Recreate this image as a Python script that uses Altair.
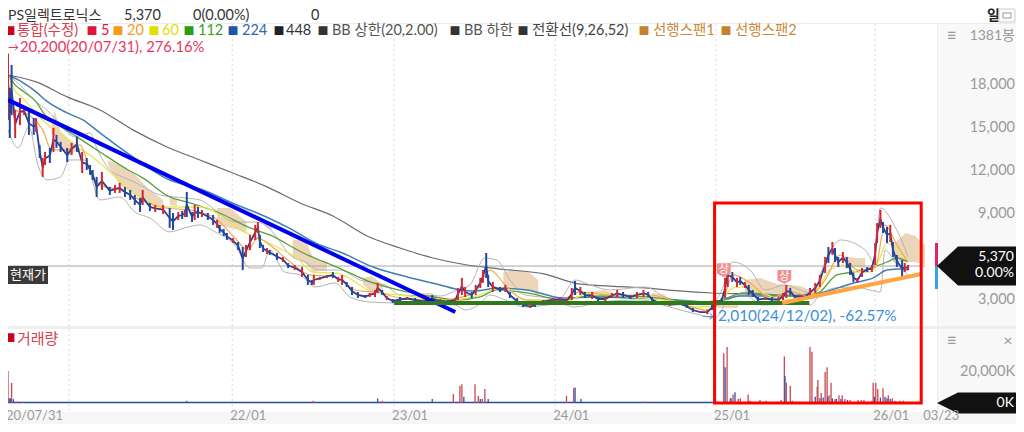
import altair as alt
import pandas as pd

FONT = "Lato, 'Noto Sans CJK KR', sans-serif"

# ---- session-indexed x ticks
grid_idx = [102, 350, 596, 841, 1085, 1327]
xlabel_idx = [0, 350, 596, 841, 1085, 1327, 1403]
xlabel_txt = ["20/07/31", "22/01", "23/01", "24/01", "25/01", "26/01", "03/23"]
price_ticks = [18000, 15000, 12000, 9000, 3000]
price_tick_txt = ["18,000", "15,000", "12,000", "9,000", "3,000"]
last_price = 5370

# ---- candles
bar_idx = [0,3,6,12,20,27,35,43,47,53,58,62,70,76,81,88,99,106,114,122,129,134,138,144,152,164,172,179,187,195,202,210,214,225,233,245,255,260,268,274,278,281,289,293,298,304,313,321,327,331,337,342,351,359,366,371,377,385,389,392,397,403,407,418,427,435,445,456,465,471,474,483,494,503,511,517,524,532,541,552,559,567,571,578,585,594,605,616,628,640,654,666,678,689,693,699,704,714,720,727,731,736,739,746,757,765,772,783,792,803,810,822,837,848,859,866,871,879,886,897,906,917,927,935,944,955,965,975,982,988,1000,1015,1031,1041,1050,1061,1072,1079,1087,1094,1099,1103,1110,1117,1122,1129,1135,1141,1149,1160,1170,1180,1187,1192,1198,1205,1213,1221,1228,1236,1243,1251,1256,1262,1266,1271,1278,1284,1289,1294,1300,1307,1315,1322,1327,1330,1335,1339,1345,1350,1354,1360,1368,1372,1377]
bar_high = [20200,17800,19400,16260,17100,16470,16120,15700,15700,13800,12910,13330,13610,15010,14520,14030,13610,13960,14380,13330,12910,12420,12070,11590,11930,10890,11030,11170,10890,10680,10330,10120,10680,9770,9630,9630,9420,9070,9140,9210,9280,10540,9140,9630,9490,9280,9070,8930,8580,8240,7960,7680,7330,7050,6700,6840,7540,8240,8440,7540,6840,6630,6490,6280,6000,5580,5440,5300,4750,4400,4750,4610,4750,4950,4610,4750,4260,3910,3560,3350,3490,3700,4190,3700,3280,3070,3210,3210,3140,3000,3350,3070,3000,3140,3840,4540,3910,3560,4050,4540,5090,6280,4750,4260,3910,4050,3560,3140,2790,2650,2790,3000,3140,3210,3140,3840,4330,3910,3560,3560,3210,3210,3490,3700,3560,3350,3560,3700,3560,3210,2860,2790,2790,2650,2440,2230,2300,2650,3000,3140,4540,5580,4950,4540,4610,4260,4050,3700,3210,3210,3210,3210,3490,4050,3840,3350,3350,3280,3840,4190,4750,6000,6700,7050,6630,6000,6350,6000,5580,4880,4540,5230,5300,5440,6980,8370,9280,8440,8100,8240,7050,6140,5790,5580,5440]
bar_low = [15560,14300,15900,14300,15200,15900,14520,14520,14730,12910,11590,12420,12560,13330,13610,13330,12630,13120,13330,11860,12070,11730,11380,10190,10680,10330,10470,10470,10190,9980,9630,9140,9630,9210,9140,9000,8030,7890,8580,8650,8790,8790,8440,8580,8720,8790,8580,8240,8030,7680,7470,7190,6980,6490,5090,6000,6490,7190,7680,6630,6350,6210,6140,5790,5650,5230,5090,4610,4050,4050,4050,4400,4540,4540,4260,4050,3910,3350,3140,3140,3210,3210,3490,3350,3000,2790,2860,3000,2860,2790,2860,2790,2790,2860,3000,3350,3210,3140,3350,3840,4190,4540,3910,3560,3560,3560,3140,2650,2510,2440,2510,2790,2860,2860,2860,3000,3350,3350,3140,3070,2930,2930,3140,3210,3140,3070,3140,3210,3210,2860,2650,2580,2650,2440,2160,2090,2010,2300,2790,2860,3140,3910,4260,3910,4050,3840,3350,3210,2860,3000,2860,2860,3000,3140,3350,3140,3140,3140,3210,3490,3910,4880,5580,6140,5650,5300,5580,5230,4750,4260,4190,4610,4950,4950,5440,6980,8030,7680,6980,7050,6000,5300,4610,4950,5090]
bar_up = "rbbrrrbbrbrrbrbbbrbrbbbbrbrrbbbbrbrrbbrbrbbrbrbbrbbbrbbrrrrbbrbbrbrrbbrrrbrrbbbbrrrbrbbrbrbrbrrrrbrrrbbrbrbbbrbrrrrrbrbrbrrrbbrrbbrrbbbrrbrbrrbrbrbbbrbrrrbbrbrrrrbrbbrbbbrrbrrrrbbrbbbrr"[:len(bar_idx)].ljust(len(bar_idx), "r")

# ---- moving averages (session, price)
ma448_idx = [0,47,99,149,199,251,301,351,403,453,503,555,605,655,707,757,825,877,977,1029,1079,1137,1213,1289,1365]
ma448_val = [18700,18220,17170,16260,14870,13680,12770,11860,10890,9770,8860,7470,6630,5930,5440,5160,4810,4120,3840,3630,3490,3420,3280,3840,4540]
ma224_idx = [0,23,47,62,99,123,149,199,251,306,357,388,433,483,514,564,616,666,696,716,757,798,853,904,955,1005,1081,1122,1181,1231,1243,1294,1324,1345,1365,1377]
ma224_val = [18700,18220,17520,16960,16050,15560,14660,12980,11450,10680,9630,9070,8100,6840,6350,5300,4610,4050,3700,3630,3840,3700,3140,3210,3140,3070,2860,3280,3280,3420,3490,4190,4540,5090,5160,5090]
ma112_idx = [0,12,27,47,62,84,114,149,192,214,255,281,331,377,407,458,509,564,616,666,692,727,752,798,853,879,929,980,1031,1081,1102,1126,1178,1228,1243,1269,1294,1319,1345,1360,1377]
ma112_val = [18700,18010,17520,16820,15910,15220,14380,13330,12070,11520,10190,9840,9070,8030,7540,6280,5300,4190,3560,3140,3000,3210,3700,3490,3000,3210,3280,3210,2930,2860,3140,3490,3350,3210,3560,4750,4950,5230,5650,5930,5650]
ma60_idx = [0,8,23,38,53,73,88,114,138,164,199,251,306,331,357,388,418,448,473,509,524,564,605,646,686,727,757,798,853,894,955,1005,1056,1087,1091,1111,1132,1163,1187,1228,1243,1258,1278,1300,1319,1331,1345,1365,1377]
ma60_val = [18700,17800,17170,16470,15770,15010,14660,13680,12980,11930,10540,9490,9490,8930,8030,7330,6700,5930,4950,4880,4610,3560,3350,3140,3000,3350,3840,3000,2860,3490,3210,3000,2510,2580,2790,3840,3910,3350,3000,3350,4050,5090,5440,4950,4950,5580,6980,6280,5790]
ma20_idx = [0,12,35,58,73,96,119,134,149,179,210,248,286,324,354,374,389,407,438,468,506,537,575,605,666,693,719,742,765,795,848,879,924,985,1031,1069,1094,1111,1137,1167,1198,1228,1251,1274,1301,1327,1342,1360,1377]
ma20_val = [18360,16260,15910,14870,13470,13470,13820,12070,11030,10680,9980,9420,9280,8720,7330,6490,7330,6840,5650,4750,4610,3700,3490,3140,3000,3140,3560,5090,4050,3000,3000,3560,3350,3350,2790,2300,2860,4750,4190,3140,3560,3280,4400,6140,5090,5230,8240,6840,5650]

# ---- Bollinger bands
bbu_idx = [0,20,43,65,88,111,134,144,164,187,210,240,278,301,324,354,385,400,415,438,461,483,514,544,582,605,666,692,711,734,752,772,795,848,871,894,924,977,1008,1046,1084,1094,1110,1137,1160,1190,1213,1231,1251,1274,1312,1325,1335,1345,1354,1365,1377]
bbu_val = [18700,18010,16960,16260,15220,14380,14660,13610,12070,11520,11030,10330,10120,9980,9280,8440,8440,8240,7540,6140,5650,5090,5090,4400,4050,3350,3280,3700,4050,5930,5790,4400,3350,3140,4400,4050,3700,3910,3210,2790,3000,3700,5650,5090,3700,4050,3700,3490,5650,7190,6490,5650,9420,9070,8370,7400,6000]
bbl_idx = [0,17,35,50,65,88,103,126,149,179,202,225,255,278,301,324,354,377,395,407,430,453,476,506,529,559,597,651,689,704,724,742,765,795,848,871,909,970,1015,1061,1084,1094,1103,1129,1155,1190,1213,1228,1243,1266,1297,1319,1335,1342,1357,1377]
bbl_val = [14870,13610,15080,12420,11380,11590,12770,12770,9980,10190,9140,8720,7750,8030,8240,7750,6840,5230,5230,6490,4950,4750,3910,4190,3210,2860,2790,2720,2650,2300,2650,3350,3000,2510,2720,2510,2860,3000,2510,1950,1740,2300,3000,3350,2650,2720,2860,2650,3350,3840,3910,3700,3560,6490,5650,4750]

# ---- Ichimoku cloud pieces
cloud_seg = list("AAAAABBBBBCCDDDEEFFFFGGGHHHIIIIJJJKKLLMMMMMNNNOOOO")
cloud_idx = [73,78,88,103,116,161,179,202,225,245,255,266,327,347,372,400,410,442,461,473,494,549,562,579,631,651,661,762,780,800,815,897,912,927,988,1008,1088,1119,1129,1152,1178,1213,1228,1281,1297,1312,1354,1373,1388,1403]
cloud_top = [15220,16260,14730,14170,13750,12770,12420,11730,10680,9980,10120,9980,9420,9420,8440,8580,8300,7190,7190,5930,5650,4540,4680,4050,3490,3490,3350,4950,5090,4950,4400,3560,3700,3560,3490,3350,2790,2790,4400,4540,4120,3980,3700,6070,5930,5930,6840,7680,7470,6840]
cloud_bot = [14520,14520,13470,13120,13540,12420,11030,10330,9630,9420,9630,9560,8240,8030,7750,8100,7890,5930,5580,4950,5090,4050,3560,3560,3140,3000,3140,4050,3840,3700,3350,3140,3140,3140,3000,3070,2440,2440,3280,3280,3280,3350,3280,5160,5300,5230,5650,5650,5650,5440]

# ---- volume (thousand shares)
vol_idx = [0,2,4,6,9,15,25,281,473,571,578,654,686,696,699,702,719,724,727,730,734,739,858,869,871,880,977,1097,1099,1102,1107,1108,1111,1114,1119,1122,1134,1137,1152,1161,1184,1189,1190,1192,1198,1201,1213,1228,1231,1236,1239,1240,1243,1245,1248,1251,1254,1255,1257,1260,1262,1266,1268,1272,1275,1277,1281,1285,1289,1301,1306,1310,1322,1324,1326,1328,1331,1335,1339,1342,1345,1347,1350,1353,1357,1365,1370,1377]
vol_val = [20600,3000,3000,12900,2500,1000,800,1500,1500,3000,1500,2500,5800,11000,12000,4000,12000,4500,2500,2500,9000,2500,4500,9500,10000,2500,1000,32000,23000,36000,3000,3000,5500,7000,2500,3000,5500,1500,2000,1500,2000,30000,17400,13000,11000,1500,500,36000,33000,4000,10500,14800,3000,6500,3500,20000,23000,4000,5000,13000,3000,2500,2500,5000,2500,5000,2500,2000,2000,2000,2000,2000,1500,13000,4000,13000,9000,3500,9500,4000,3000,5000,2500,3000,1500,1500,1500,500]
vol_blue = [2,4,9,281,571,654,702,727,739,871,880,1099,1108,1114,1137,1190,1201,1236,1243,1248,1255,1262,1268,1275,1285,1326,1335,1342,1345,1350]
vol_ticks = [20000]
vol_base_idx = [0, 1087]
vol_base_val = [350, 350]

# ---- drawn analysis lines
blue_idx, blue_val = [0, 689], [16960, 2160]
green_idx, green_val = [596, 1227], [2790, 2790]
orange_idx, orange_val = [1186, 1397], [2790, 4810]
box_idx = [1083, 1397]
limit_idx = [1097, 1189]
limit_val = [5090, 4610]

# ---- legend
legend_txt = ["통합(수정)", "5", "20", "60", "112", "224", "448", "BB 상한(20,2.00)", "BB 하한", "전환선(9,26,52)", "선행스팬1", "선행스팬2"]
legend_col = ["#d9404f", "#e0143c", "#f79a1e", "#e3e000", "#3da01a", "#2f66b0", "#333333", "#555555", "#555555", "#444444", "#c98a3a", "#c98a3a"]
legend_box = ["#d0021b", "#e0143c", "#f79a1e", "#e3e000", "#2a9d10", "#1f55a8", "#222222", "#333333", "#333333", "#333333", "#c4822e", "#c4822e"]
legend_x = [17, 101, 127, 162, 198, 242, 286, 332, 464, 532, 653, 735]
legend_box_x = [10, 92, 118, 154, 189, 233, 279, 323, 455, 523, 644, 726]

# ---- scales
XS = alt.Scale(domain=[0, 102, 1421], range=[0, 61, 929], zero=False, nice=False)
YP = alt.Scale(domain=[1186, 22396], range=[318, 14], zero=False, nice=False)
YV = alt.Scale(domain=[0, 47000], range=[395, 322], zero=False, nice=False)

def P(v):
    return alt.value(v - 8)

ONE = alt.Data(values=[{"a": 1}])

def box(x0, x1, y0, y1, color, **kw):
    return alt.Chart(ONE).mark_rect(color=color, **kw).encode(x=P(x0), x2=P(x1), y=P(y0), y2=P(y1))

def label(t, x, y, color, size=13, align="left", weight="normal"):
    d = alt.Data(values=[{"t": t}])
    return alt.Chart(d).mark_text(font=FONT, fontSize=size, align=align, baseline="middle",
                                  color=color, fontWeight=weight).encode(x=P(x), y=P(y), text="t:N")

def pline(ix, val, color, width, yscale=YP, **kw):
    df = pd.DataFrame({"i": ix, "v": val})
    return alt.Chart(df).mark_line(color=color, strokeWidth=width, **kw).encode(
        x=alt.X("i:Q", scale=XS, axis=None), y=alt.Y("v:Q", scale=yscale, axis=None))

layers = []

# panels
layers += [
    box(937, 1016, 24, 412, "#f8f8f8"),
    box(8, 1016, 412, 424, "#f6f6f6"),
    box(8, 1016, 23, 24, "#ececec"),
    box(8, 1016, 326, 329, "#eeeeee"),
    box(937, 938, 24, 412, "#eeeeee"),
]

# vertical grid
layers.append(alt.Chart(pd.DataFrame({"i": grid_idx})).mark_rule(color="#d9d9d9", strokeDash=[2, 3], strokeWidth=1).encode(
    x=alt.X("i:Q", scale=XS, axis=None), y=P(24), y2=P(412)))

# cloud
cdf = pd.DataFrame({"i": cloud_idx, "t": cloud_top, "b": cloud_bot, "s": cloud_seg})
layers.append(alt.Chart(cdf).mark_area(color="#e6c39c", opacity=0.7).encode(
    x=alt.X("i:Q", scale=XS, axis=None), y=alt.Y("t:Q", scale=YP, axis=None), y2="b:Q", detail="s:N"))

# last price line
layers.append(alt.Chart(pd.DataFrame({"i": [0], "i2": [1403], "v": [last_price]})).mark_rule(color="#a8a8a8", strokeWidth=1).encode(
    x=alt.X("i:Q", scale=XS, axis=None), x2="i2:Q", y=alt.Y("v:Q", scale=YP, axis=None)))

# lines
layers += [
    pline(ma448_idx, ma448_val, "#6b6b6b", 1.2, interpolate="monotone"),
    pline(bbu_idx, bbu_val, "#b4b4b4", 1, interpolate="monotone"),
    pline(bbl_idx, bbl_val, "#b4b4b4", 1, interpolate="monotone"),
    pline(ma224_idx, ma224_val, "#3d7fb5", 1.5, interpolate="monotone"),
    pline(ma112_idx, ma112_val, "#5aa03c", 1.3, interpolate="monotone"),
    pline(ma60_idx, ma60_val, "#e6e65a", 1.3, interpolate="monotone"),
    pline(ma20_idx, ma20_val, "#f2a950", 1.2, interpolate="monotone"),
]

# candles
bdf = pd.DataFrame({"i": bar_idx, "h": bar_high, "l": bar_low,
                    "c": ["#d9252f" if u == "r" else "#22479f" for u in bar_up]})
layers.append(alt.Chart(bdf).transform_calculate(m="(datum.h+datum.l)/2").mark_line(color="#2a3f95", strokeWidth=1.8).encode(
    x=alt.X("i:Q", scale=XS, axis=None), y=alt.Y("m:Q", scale=YP, axis=None)))
layers.append(alt.Chart(bdf).mark_rule(strokeWidth=2).encode(
    x=alt.X("i:Q", scale=XS, axis=None), y=alt.Y("h:Q", scale=YP, axis=None), y2="l:Q",
    color=alt.Color("c:N", scale=None, legend=None)))

# volume
vdf = pd.DataFrame({"i": vol_idx, "v": vol_val, "z": [0] * len(vol_idx),
                    "c": ["#2a55a8" if i in vol_blue else "#c8474f" for i in vol_idx]})
layers.append(pline(vol_base_idx, vol_base_val, "#2a4a9f", 1.5, yscale=YV))
layers.append(alt.Chart(vdf).mark_rule(strokeWidth=1.3).encode(
    x=alt.X("i:Q", scale=XS, axis=None), y=alt.Y("v:Q", scale=YV, axis=None), y2="z:Q",
    color=alt.Color("c:N", scale=None, legend=None)))

# analysis lines
layers += [
    pline(blue_idx, blue_val, "#0000f0", 4),
    pline(green_idx, green_val, "#2e7a1c", 4),
    pline(orange_idx, orange_val, "#ffa544", 4),
]
layers.append(alt.Chart(pd.DataFrame({"a": [box_idx[0]], "b": [box_idx[1]]})).mark_rect(
    fill="transparent", stroke="#ff0000", strokeWidth=3).encode(
    x=alt.X("a:Q", scale=XS, axis=None), x2="b:Q", y=P(203), y2=P(403)))

# limit-up badges
badge = "M-1,-1H1V0.5L0,1L-1,0.5Z"
ldf = pd.DataFrame({"i": limit_idx, "v": limit_val, "t": ["상", "상"]})
layers.append(alt.Chart(ldf).mark_point(shape=badge, filled=True, color="#ef8f8f", opacity=1, size=190).encode(
    x=alt.X("i:Q", scale=XS, axis=None), y=alt.Y("v:Q", scale=YP, axis=None)))
layers.append(alt.Chart(ldf).mark_text(font=FONT, fontSize=11, color="white", baseline="middle").encode(
    x=alt.X("i:Q", scale=XS, axis=None), y=alt.Y("v:Q", scale=YP, axis=None), text="t:N"))

# header
layers += [
    label("PS일렉트로닉스", 8, 16, "#333333", 14),
    label("5,370", 124, 16, "#333333", 14.5),
    label("0(0.00%)", 193, 16, "#333333", 14.5),
    label("0", 311, 16, "#333333", 14.5),
    label("일", 987, 16, "#222222", 14, weight="bold"),
    alt.Chart(ONE).mark_rect(fill="#fafafa", stroke="#cfcfcf", strokeWidth=1).encode(x=P(999), x2=P(1015), y=P(9), y2=P(22)),
    alt.Chart(ONE).mark_rect(fill="white", stroke="#999999", strokeWidth=1).encode(x=P(1003), x2=P(1011), y=P(13), y2=P(18)),
]

# legend
ldf2 = pd.DataFrame({"x": [v - 8 for v in legend_x], "t": legend_txt, "c": legend_col})
layers.append(alt.Chart(ldf2).mark_text(font=FONT, fontSize=14.5, align="left", baseline="middle").encode(
    x=alt.X("x:Q", scale=None), y=P(31), text="t:N", color=alt.Color("c:N", scale=None, legend=None)))
ldf3 = pd.DataFrame({"x": [v - 8 for v in legend_box_x], "c": legend_box})
layers.append(alt.Chart(ldf3).transform_calculate(t="'■'").mark_text(font=FONT, fontSize=11, align="center", baseline="middle").encode(
    x=alt.X("x:Q", scale=None), y=P(32), text="t:N", color=alt.Color("c:N", scale=None, legend=None)))

# annotations
layers += [
    label("→", 8, 48, "#e8355f", 11),
    label("20,200(20/07/31), 276.16%", 20, 48, "#e8355f", 14.8),
    label("→", 702, 316, "#3a90d8", 12),
    label("2,010(24/12/02), -62.57%", 718, 316, "#3a90d8", 15.3),
    box(8, 48, 266, 284, "#3a3a3a"),
    label("현재가", 28, 275, "white", 13, align="center"),
    label("■", 10, 339, "#d0021b", 11, align="center"),
    label("거래량", 17, 339, "#d9404f", 15),
]

# right axis texts
layers.append(alt.Chart(pd.DataFrame({"v": price_ticks, "t": price_tick_txt})).mark_text(
    font=FONT, fontSize=14.5, align="right", baseline="middle", color="#9a9a9a").encode(
    x=P(1015), y=alt.Y("v:Q", scale=YP, axis=None), text="t:N"))
layers.append(alt.Chart(pd.DataFrame({"v": vol_ticks, "t": ["20,000K"]})).mark_text(
    font=FONT, fontSize=14.5, align="right", baseline="middle", color="#9a9a9a").encode(
    x=P(1015), y=alt.Y("v:Q", scale=YV, axis=None), text="t:N"))
layers += [
    label("≡", 952, 36, "#999999", 17, align="center"),
    label("1381봉", 1015, 36, "#999999", 14, align="right"),
    label("≡", 952, 341, "#999999", 17, align="center"),
    label("×", 1008, 341, "#999999", 16, align="center"),
]

# price tags
tag = "M-0.86,0L-0.44,-0.39L0.88,-0.39L0.88,0.39L-0.44,0.39Z"
tag0 = "M-0.86,0L-0.44,-0.21L0.88,-0.21L0.88,0.21L-0.44,0.21Z"
layers += [
    box(935, 938, 243, 266, "#e0245e"),
    box(935, 938, 266, 289, "#3aa0e8"),
    alt.Chart(pd.DataFrame({"v": [last_price]})).mark_point(shape=tag, filled=True, color="#111111", opacity=1, size=10000).encode(
        x=P(980), y=alt.Y("v:Q", scale=YP, axis=None)),
    label("5,370", 1014, 257, "white", 14, align="right"),
    label("0.00%", 1014, 273, "white", 14, align="right"),
    alt.Chart(pd.DataFrame({"v": [0]})).mark_point(shape=tag0, filled=True, color="#111111", opacity=1, size=10000).encode(
        x=P(980), y=alt.Y("v:Q", scale=YV, axis=None)),
    label("0K", 1014, 403, "white", 14, align="right"),
]

# x labels
layers.append(alt.Chart(pd.DataFrame({"i": xlabel_idx, "t": xlabel_txt})).mark_text(
    font=FONT, fontSize=13, align="left", baseline="middle", color="#9a9a9a", dx=-2).encode(
    x=alt.X("i:Q", scale=XS, axis=None), y=P(416), text="t:N"))

chart = alt.layer(*layers).resolve_scale(x="independent", y="independent").properties(
    width=1008, height=416, padding=0, autosize=alt.AutoSizeParams(type="none"),
    background="white",
).configure_view(strokeWidth=0)

chart.save("out.html", embed_options={"renderer": "svg", "actions": False})
